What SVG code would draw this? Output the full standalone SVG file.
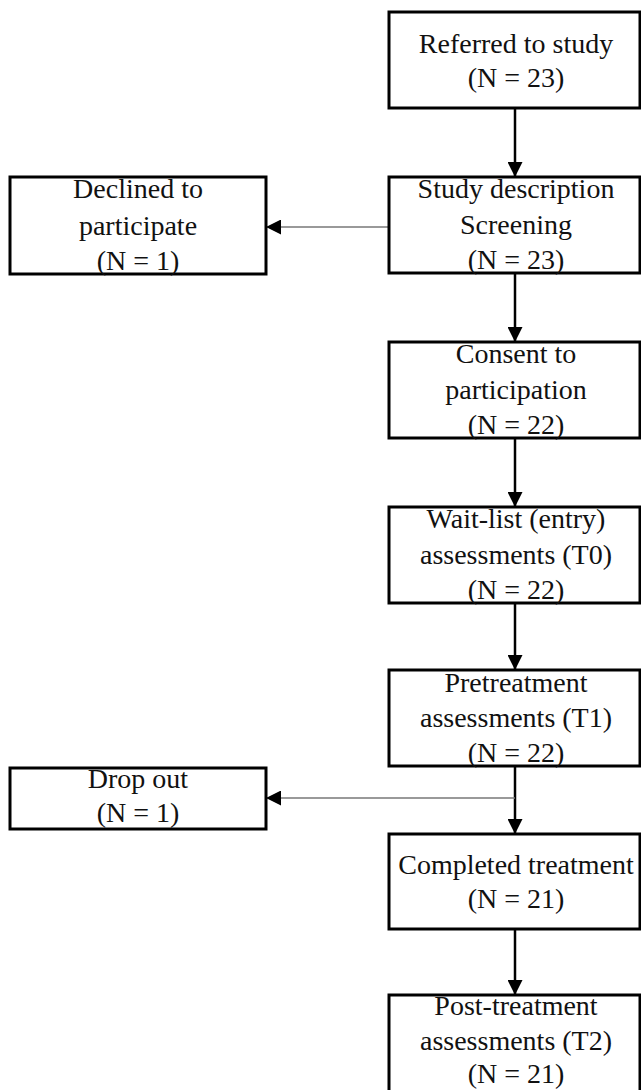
<svg xmlns="http://www.w3.org/2000/svg" width="641" height="1090" viewBox="0 0 641 1090">
<style>
.box{fill:#fff;stroke:#000;stroke-width:3}
.t{font-family:"Liberation Serif","Times New Roman",serif;font-size:28px;fill:#111;text-anchor:middle}
.down{stroke:#000;stroke-width:2.5;fill:none}
.side{stroke:#777;stroke-width:1.6;fill:none}
</style>
<defs>
<marker id="ah" markerUnits="userSpaceOnUse" markerWidth="15" markerHeight="15" refX="15" refY="7.5" orient="auto">
<path d="M0,0 L15,7.5 L0,15 Z" fill="#000"/>
</marker>
</defs>
<rect width="641" height="1090" fill="#fff"/>
<g id="connectors">
<line class="down" x1="515" y1="108" x2="515" y2="177" marker-end="url(#ah)"/>
<line class="down" x1="515" y1="273" x2="515" y2="342" marker-end="url(#ah)"/>
<line class="down" x1="515" y1="438" x2="515" y2="507" marker-end="url(#ah)"/>
<line class="down" x1="515" y1="603" x2="515" y2="670" marker-end="url(#ah)"/>
<line class="down" x1="515" y1="766" x2="515" y2="834" marker-end="url(#ah)"/>
<line class="down" x1="515" y1="929" x2="515" y2="995" marker-end="url(#ah)"/>
<line class="side" x1="389" y1="227" x2="266" y2="227" marker-end="url(#ah)"/>
<line class="side" x1="515" y1="798" x2="266" y2="798" marker-end="url(#ah)"/>
</g>
<g id="referred">
<rect class="box" x="389" y="12" width="251" height="96"/>
<text class="t" x="516" y="53">Referred to study</text>
<text class="t" x="516" y="87">(N = 23)</text>
</g>
<g id="screening">
<rect class="box" x="389" y="177" width="251" height="96"/>
<text class="t" x="516" y="198">Study description</text>
<text class="t" x="516" y="234">Screening</text>
<text class="t" x="516" y="269">(N = 23)</text>
</g>
<g id="declined">
<rect class="box" x="10" y="177" width="256" height="97"/>
<text class="t" x="138" y="198">Declined to</text>
<text class="t" x="138" y="235">participate</text>
<text class="t" x="138" y="270">(N = 1)</text>
</g>
<g id="consent">
<rect class="box" x="389" y="342" width="251" height="96"/>
<text class="t" x="516" y="363">Consent to</text>
<text class="t" x="516" y="399">participation</text>
<text class="t" x="516" y="434">(N = 22)</text>
</g>
<g id="waitlist">
<rect class="box" x="389" y="507" width="251" height="96"/>
<text class="t" x="516" y="528">Wait-list (entry)</text>
<text class="t" x="516" y="564">assessments (T0)</text>
<text class="t" x="516" y="599">(N = 22)</text>
</g>
<g id="pretreatment">
<rect class="box" x="389" y="670" width="251" height="96"/>
<text class="t" x="516" y="692">Pretreatment</text>
<text class="t" x="516" y="727">assessments (T1)</text>
<text class="t" x="516" y="762">(N = 22)</text>
</g>
<g id="dropout">
<rect class="box" x="10" y="768" width="256" height="61"/>
<text class="t" x="138" y="788">Drop out</text>
<text class="t" x="138" y="822">(N = 1)</text>
</g>
<g id="completed">
<rect class="box" x="389" y="834" width="251" height="95"/>
<text class="t" x="516" y="874">Completed treatment</text>
<text class="t" x="516" y="908">(N = 21)</text>
</g>
<g id="posttreatment">
<rect class="box" x="389" y="995" width="251" height="200"/>
<text class="t" x="516" y="1015">Post-treatment</text>
<text class="t" x="516" y="1050">assessments (T2)</text>
<text class="t" x="516" y="1083">(N = 21)</text>
</g>
</svg>
